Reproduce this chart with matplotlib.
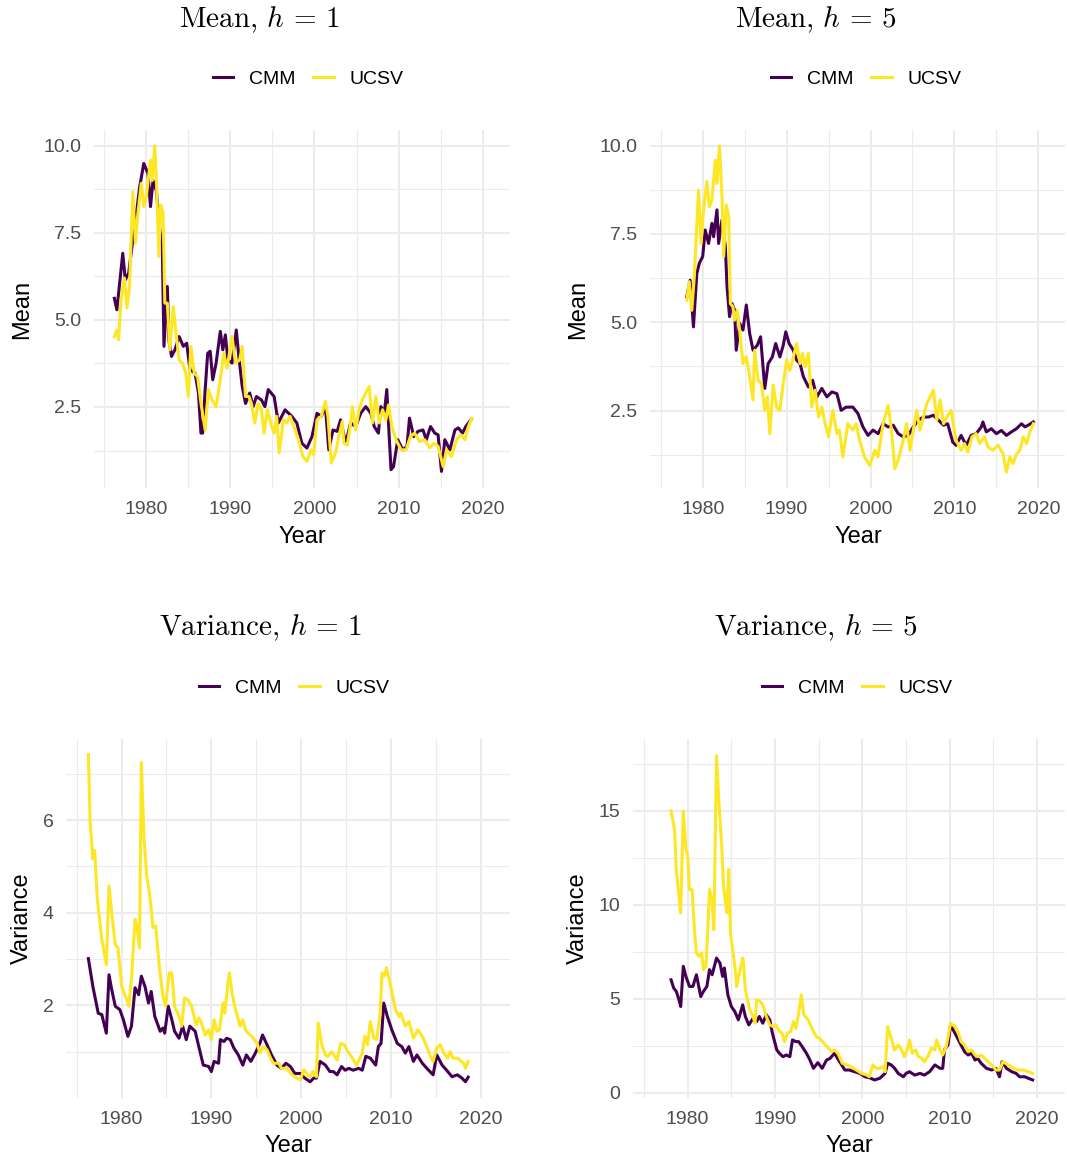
import matplotlib
matplotlib.use("Agg")
import matplotlib.pyplot as plt
from matplotlib.lines import Line2D

plt.rcParams['font.family'] = ['Liberation Sans', 'DejaVu Sans']
plt.rcParams['mathtext.fontset'] = 'cm'

# ---------------- data ----------------
series_names = ["CMM", "UCSV"]
colors = {"CMM": "#440154", "UCSV": "#FDE725"}

mean_h1_cmm_year = [1976.2, 1976.5, 1977.2, 1977.5, 1977.9, 1978.4, 1978.8, 1979.2, 1979.7, 1980.2,
                    1980.5, 1980.8, 1981.2, 1981.6, 1981.9, 1982.1, 1982.5, 1982.7, 1983.0, 1983.4,
                    1983.9, 1984.4, 1984.8, 1985.2, 1985.8, 1986.2, 1986.5, 1986.7, 1987.0, 1987.3,
                    1987.6, 1987.9, 1988.3, 1988.8, 1989.1, 1989.4, 1989.7, 1990.2, 1990.7, 1991.0,
                    1991.4, 1991.8, 1992.3, 1992.7, 1993.1, 1993.7, 1994.1, 1994.5, 1995.2, 1995.7,
                    1996.5, 1997.3, 1997.9, 1998.5, 1999.1, 1999.7, 2000.3, 2000.8, 2001.3, 2001.7,
                    2002.2, 2002.7, 2003.1, 2003.7, 2004.3, 2004.9, 2005.5, 2006.1, 2006.7, 2007.1,
                    2007.6, 2007.9, 2008.3, 2008.6, 2008.8, 2009.1, 2009.4, 2009.9, 2010.5, 2011.0,
                    2011.3, 2011.8, 2012.3, 2012.9, 2013.3, 2013.8, 2014.3, 2014.7, 2015.1, 2015.5,
                    2016.1, 2016.7, 2017.1, 2017.6, 2018.0, 2018.6]
mean_h1_cmm = [5.62, 5.29, 6.91, 6.15, 6.34, 7.3, 8.0, 8.8, 9.49, 9.2,
               8.25, 9.0, 8.7, 7.6, 7.1, 4.24, 5.96, 4.4, 3.95, 4.14,
               4.52, 4.24, 4.33, 3.57, 3.47, 2.9, 1.75, 1.75, 3.0, 4.04,
               4.1, 3.28, 3.76, 4.67, 4.14, 4.57, 3.85, 3.76, 4.71, 3.95,
               3.1, 2.6, 2.9, 2.51, 2.8, 2.7, 2.51, 3.0, 2.8, 2.04,
               2.42, 2.23, 2.04, 1.46, 1.32, 1.65, 2.32, 2.23, 2.5, 1.27,
               1.84, 1.8, 2.13, 1.46, 2.04, 1.94, 2.32, 2.51, 2.32, 1.94,
               1.75, 2.51, 2.32, 3.0, 2.04, 0.7, 0.79, 1.56, 1.27, 1.37,
               2.18, 1.65, 1.8, 1.84, 1.56, 1.94, 1.75, 1.7, 0.65, 1.56,
               1.27, 1.84, 1.9, 1.75, 1.94, 2.13]

mean_h1_ucsv_year = [1976.2, 1976.5, 1976.7, 1977.0, 1977.4, 1977.7, 1978.0, 1978.4, 1978.7, 1979.0,
                     1979.4, 1979.7, 1980.0, 1980.5, 1980.7, 1981.0, 1981.2, 1981.5, 1981.7, 1982.0,
                     1982.2, 1982.5, 1982.8, 1983.2, 1983.5, 1983.9, 1984.3, 1984.7, 1985.0, 1985.3,
                     1985.7, 1986.1, 1986.5, 1987.0, 1987.4, 1987.8, 1988.3, 1988.8, 1989.2, 1989.6,
                     1990.2, 1990.6, 1991.1, 1991.4, 1991.8, 1992.2, 1992.5, 1992.9, 1993.3, 1993.7,
                     1994.0, 1994.4, 1994.8, 1995.2, 1995.5, 1995.8, 1996.3, 1996.7, 1997.1, 1997.6,
                     1998.1, 1998.6, 1999.1, 1999.6, 1999.9, 2000.3, 2000.8, 2001.3, 2001.6, 2002.0,
                     2002.5, 2002.9, 2003.3, 2003.5, 2003.9, 2004.3, 2004.5, 2004.9, 2005.3, 2005.7,
                     2006.1, 2006.5, 2006.9, 2007.3, 2007.7, 2008.1, 2008.5, 2008.8, 2009.2, 2009.7,
                     2010.3, 2010.9, 2011.4, 2011.9, 2012.5, 2013.1, 2013.7, 2014.2, 2014.7, 2015.3,
                     2015.7, 2016.3, 2016.9, 2017.4, 2017.9, 2018.3, 2018.7]
mean_h1_ucsv = [4.52, 4.71, 4.43, 5.57, 6.2, 5.34, 5.96, 8.68, 7.2, 8.06,
                8.92, 8.25, 8.54, 9.59, 9.0, 10.0, 9.0, 6.82, 8.3, 8.06,
                5.48, 5.48, 4.14, 5.38, 4.71, 3.85, 3.76, 3.47, 2.8, 4.24,
                3.47, 3.37, 2.61, 1.84, 3.0, 2.71, 2.51, 3.28, 4.04, 3.61,
                4.52, 3.76, 3.85, 4.24, 2.8, 2.8, 2.6, 2.04, 2.6, 2.42,
                1.75, 2.42, 2.04, 1.75, 2.23, 1.18, 2.13, 2.04, 2.23, 1.9,
                1.56, 1.08, 0.94, 1.27, 1.13, 2.13, 2.23, 2.66, 2.23, 0.89,
                1.18, 1.65, 2.08, 1.46, 1.41, 2.04, 2.51, 1.84, 2.42, 2.71,
                2.9, 3.09, 2.04, 2.8, 2.04, 2.42, 2.13, 2.56, 1.94, 1.56,
                1.27, 1.27, 1.65, 1.75, 1.51, 1.56, 1.32, 1.46, 1.37, 0.79,
                1.27, 1.08, 1.56, 1.7, 1.56, 1.94, 2.18]

mean_h5_cmm_year = [1978.1, 1978.5, 1978.9, 1979.3, 1979.6, 1980.0, 1980.3, 1980.7, 1981.1, 1981.3,
                    1981.7, 1981.9, 1982.3, 1982.7, 1982.9, 1983.2, 1983.5, 1983.8, 1984.0, 1984.4,
                    1984.8, 1985.2, 1985.6, 1986.0, 1986.5, 1986.9, 1987.4, 1987.8, 1988.3, 1988.7,
                    1989.2, 1989.6, 1989.9, 1990.3, 1990.8, 1991.2, 1991.6, 1992.0, 1992.6, 1993.1,
                    1993.6, 1994.2, 1994.8, 1995.4, 1996.0, 1996.5, 1997.1, 1997.9, 1998.5, 1999.1,
                    1999.7, 2000.3, 2000.9, 2001.5, 2002.1, 2002.7, 2003.3, 2003.9, 2004.5, 2005.1,
                    2005.7, 2006.3, 2006.9, 2007.5, 2008.1, 2008.7, 2009.2, 2009.8, 2010.2, 2010.8,
                    2011.4, 2012.0, 2012.6, 2013.2, 2013.4, 2013.8, 2014.4, 2015.0, 2015.6, 2016.2,
                    2016.8, 2017.4, 2018.0, 2018.4, 2018.8, 2019.4]
mean_h5_cmm = [5.72, 6.19, 4.87, 6.38, 6.67, 6.86, 7.61, 7.23, 7.8, 7.42,
               8.18, 7.23, 7.9, 7.14, 6.0, 5.16, 5.53, 5.34, 4.21, 4.97,
               4.78, 5.49, 4.68, 4.21, 4.35, 4.59, 3.13, 3.83, 4.02, 4.4,
               4.02, 4.35, 4.73, 4.4, 4.21, 3.93, 3.83, 3.46, 3.17, 3.36,
               2.89, 3.13, 2.89, 3.03, 2.98, 2.51, 2.6, 2.6, 2.42, 2.04,
               1.8, 1.95, 1.85, 2.13, 2.04, 2.09, 1.85, 1.76, 1.8, 2.04,
               2.23, 2.32, 2.32, 2.37, 2.23, 2.09, 2.13, 1.61, 1.52, 1.8,
               1.52, 1.8, 1.85, 2.04, 2.18, 1.9, 1.99, 1.85, 1.94, 1.8,
               1.9, 1.99, 2.13, 2.04, 2.09, 2.18]

mean_h5_ucsv_year = [1978.1, 1978.4, 1978.7, 1979.0, 1979.5, 1979.8, 1980.1, 1980.5, 1980.8, 1981.1,
                     1981.5, 1981.7, 1982.0, 1982.3, 1982.5, 1982.8, 1983.1, 1983.3, 1983.6, 1983.8,
                     1984.1, 1984.4, 1984.8, 1985.2, 1985.6, 1986.0, 1986.2, 1986.6, 1987.0, 1987.4,
                     1987.7, 1988.0, 1988.4, 1988.8, 1989.2, 1989.6, 1990.0, 1990.4, 1990.8, 1991.2,
                     1991.6, 1991.9, 1992.2, 1992.6, 1993.0, 1993.4, 1993.8, 1994.2, 1994.6, 1995.0,
                     1995.5, 1996.0, 1996.3, 1996.7, 1997.3, 1997.9, 1998.3, 1998.7, 1999.3, 1999.9,
                     2000.5, 2000.9, 2001.5, 2002.1, 2002.5, 2002.9, 2003.3, 2003.9, 2004.3, 2004.7,
                     2005.1, 2005.5, 2005.9, 2006.3, 2006.7, 2007.1, 2007.5, 2007.9, 2008.3, 2008.7,
                     2009.1, 2009.6, 2010.2, 2010.8, 2011.2, 2011.6, 2012.1, 2012.6, 2013.0, 2013.6,
                     2014.0, 2014.6, 2015.2, 2015.8, 2016.2, 2016.6, 2017.0, 2017.4, 2017.8, 2018.2,
                     2018.6, 2019.0, 2019.4]
mean_h5_ucsv = [5.63, 6.15, 5.34, 6.29, 8.74, 7.23, 8.18, 8.98, 8.27, 8.46,
                9.59, 8.93, 9.99, 8.56, 6.86, 8.32, 7.99, 5.53, 5.44, 5.06,
                5.34, 4.78, 3.83, 4.02, 3.46, 2.8, 4.21, 3.36, 3.27, 2.51,
                2.89, 1.85, 3.22, 2.6, 2.51, 3.27, 3.93, 3.64, 4.02, 4.4,
                3.83, 4.12, 3.74, 4.12, 2.6, 3.08, 2.32, 2.6, 2.13, 1.76,
                2.51, 1.85, 1.95, 1.19, 2.13, 1.95, 2.13, 1.66, 1.19, 0.95,
                1.38, 1.19, 2.13, 2.65, 1.95, 0.86, 1.1, 1.66, 2.13, 1.38,
                1.95, 2.51, 1.95, 2.32, 2.7, 2.89, 3.08, 2.23, 2.8, 2.13,
                2.32, 2.51, 1.66, 1.38, 1.57, 1.33, 1.76, 1.85, 1.57, 1.76,
                1.47, 1.38, 1.52, 1.28, 0.76, 1.19, 1.0, 1.28, 1.38, 1.76,
                1.57, 1.9, 2.13]

var_h1_cmm_year = [1976.3, 1976.8, 1977.4, 1977.8, 1978.3, 1978.6, 1978.9, 1979.3, 1979.8, 1980.2,
                   1980.7, 1981.1, 1981.5, 1981.9, 1982.2, 1982.6, 1983.0, 1983.3, 1983.7, 1984.3,
                   1984.6, 1984.8, 1985.2, 1985.6, 1985.9, 1986.4, 1986.8, 1987.2, 1987.6, 1988.2,
                   1988.6, 1989.1, 1989.7, 1990.0, 1990.3, 1990.8, 1991.0, 1991.4, 1991.7, 1992.1,
                   1992.5, 1993.0, 1993.5, 1993.9, 1994.4, 1994.9, 1995.4, 1995.7, 1996.2, 1996.7,
                   1997.3, 1997.8, 1998.3, 1998.8, 1999.3, 1999.9, 2000.4, 2001.0, 2001.4, 2001.7,
                   2002.1, 2002.7, 2003.2, 2003.6, 2004.0, 2004.5, 2004.9, 2005.3, 2005.8, 2006.4,
                   2006.8, 2007.2, 2007.7, 2008.3, 2008.6, 2008.9, 2009.2, 2009.6, 2010.1, 2010.7,
                   2011.2, 2011.6, 2012.0, 2012.5, 2012.9, 2013.5, 2014.0, 2014.7, 2015.1, 2015.7,
                   2016.2, 2016.8, 2017.4, 2017.9, 2018.3, 2018.6]
var_h1_cmm = [3.01, 2.41, 1.83, 1.8, 1.4, 2.66, 2.34, 1.98, 1.91, 1.69,
              1.33, 1.55, 2.38, 2.23, 2.63, 2.41, 2.05, 2.3, 1.76, 1.44,
              1.51, 1.4, 1.98, 1.69, 1.44, 1.29, 1.55, 1.26, 1.55, 1.44,
              1.11, 0.71, 0.68, 0.57, 0.79, 0.75, 1.26, 1.22, 1.29, 1.26,
              1.08, 0.93, 0.71, 0.93, 0.79, 0.97, 1.18, 1.36, 1.15, 0.93,
              0.71, 0.64, 0.75, 0.68, 0.53, 0.53, 0.43, 0.35, 0.43, 0.43,
              0.79, 0.71, 0.57, 0.57, 0.5, 0.68, 0.6, 0.64, 0.6, 0.64,
              0.6, 0.9, 0.86, 0.71, 1.11, 1.18, 2.05, 1.76, 1.47, 1.18,
              1.11, 0.97, 1.11, 0.79, 0.93, 0.75, 0.64, 0.5, 0.93, 0.71,
              0.6, 0.46, 0.5, 0.43, 0.35, 0.45]

var_h1_ucsv_year = [1976.3, 1976.5, 1976.8, 1977.0, 1977.3, 1977.8, 1978.3, 1978.6, 1978.9, 1979.3,
                    1979.6, 1980.0, 1980.6, 1980.8, 1981.1, 1981.5, 1981.7, 1982.0, 1982.2, 1982.5,
                    1982.8, 1983.1, 1983.3, 1983.5, 1983.8, 1984.2, 1984.6, 1984.9, 1985.3, 1985.6,
                    1985.9, 1986.4, 1986.7, 1987.0, 1987.4, 1987.8, 1988.3, 1988.6, 1988.9, 1989.3,
                    1989.7, 1990.0, 1990.3, 1990.6, 1990.9, 1991.3, 1991.5, 1991.8, 1992.0, 1992.3,
                    1992.6, 1993.0, 1993.2, 1993.5, 1993.8, 1994.1, 1994.5, 1995.1, 1995.4, 1995.8,
                    1996.2, 1996.5, 1996.9, 1997.5, 1997.8, 1998.4, 1999.0, 1999.5, 1999.9, 2000.3,
                    2000.7, 2001.0, 2001.3, 2001.7, 2001.9, 2002.3, 2002.7, 2003.0, 2003.4, 2004.0,
                    2004.4, 2004.8, 2005.2, 2005.7, 2006.2, 2006.8, 2007.1, 2007.4, 2007.7, 2008.1,
                    2008.4, 2008.8, 2009.0, 2009.3, 2009.5, 2009.9, 2010.5, 2010.9, 2011.1, 2011.6,
                    2012.0, 2012.5, 2013.0, 2013.5, 2013.9, 2014.4, 2014.7, 2015.1, 2015.5, 2015.9,
                    2016.3, 2016.6, 2016.9, 2017.4, 2017.7, 2018.1, 2018.3, 2018.6]
var_h1_ucsv = [7.41, 5.95, 5.16, 5.34, 4.29, 3.42, 2.88, 4.58, 4.0, 3.31,
               3.24, 2.41, 2.12, 1.98, 2.56, 3.86, 3.71, 3.24, 7.25, 5.59,
               4.79, 4.43, 4.07, 3.68, 3.71, 2.84, 2.19, 1.98, 2.7, 2.7,
               1.98, 1.76, 1.55, 2.16, 2.12, 1.98, 1.58, 1.73, 1.62, 1.36,
               1.47, 1.26, 1.69, 1.44, 1.47, 2.05, 1.83, 2.41, 2.7, 2.27,
               1.98, 1.69, 1.55, 1.69, 1.47, 1.4, 1.33, 1.18, 0.97, 1.11,
               1.04, 0.9, 0.75, 0.75, 0.64, 0.64, 0.5, 0.43, 0.39, 0.61,
               0.5, 0.46, 0.57, 0.46, 1.62, 1.15, 0.93, 0.9, 1.0, 0.82,
               1.18, 1.15, 1.0, 0.86, 0.71, 0.97, 1.33, 1.15, 1.65, 1.29,
               1.26, 1.83, 2.7, 2.63, 2.81, 2.48, 1.91, 1.76, 1.83, 1.55,
               1.65, 1.29, 1.47, 1.33, 1.15, 0.9, 0.79, 1.08, 1.15, 0.97,
               0.86, 1.0, 0.86, 0.86, 0.82, 0.75, 0.64, 0.79]

var_h5_cmm_year = [1978.1, 1978.4, 1978.7, 1979.0, 1979.2, 1979.5, 1979.8, 1980.2, 1980.6, 1981.0,
                   1981.5, 1981.8, 1982.2, 1982.5, 1982.8, 1983.3, 1983.7, 1984.0, 1984.2, 1984.6,
                   1985.0, 1985.4, 1985.8, 1986.3, 1986.6, 1987.0, 1987.5, 1987.9, 1988.2, 1988.6,
                   1989.0, 1989.4, 1989.7, 1990.2, 1990.5, 1990.9, 1991.3, 1991.7, 1992.0, 1992.4,
                   1992.7, 1993.1, 1993.6, 1994.0, 1994.4, 1994.9, 1995.4, 1995.9, 1996.3, 1996.8,
                   1997.4, 1998.0, 1998.5, 1999.1, 1999.7, 2000.3, 2000.8, 2001.4, 2002.0, 2002.6,
                   2002.9, 2003.3, 2003.7, 2004.1, 2004.7, 2005.0, 2005.4, 2006.0, 2006.6, 2007.1,
                   2007.7, 2008.3, 2008.9, 2009.2, 2009.4, 2009.8, 2010.1, 2010.6, 2011.0, 2011.3,
                   2011.7, 2012.1, 2012.5, 2012.9, 2013.2, 2013.6, 2014.2, 2014.8, 2015.3, 2015.7,
                   2016.0, 2016.5, 2017.1, 2017.6, 2018.0, 2018.6, 2019.0, 2019.5]
var_h5_cmm = [6.01, 5.57, 5.39, 4.95, 4.59, 6.73, 6.19, 5.66, 5.66, 6.28,
              5.12, 5.39, 5.66, 6.55, 6.28, 7.17, 6.9, 6.19, 6.64, 5.21,
              4.59, 4.32, 3.88, 4.68, 4.06, 3.61, 3.97, 3.79, 4.06, 3.7,
              4.15, 3.88, 3.17, 2.28, 2.1, 1.92, 2.01, 1.92, 2.81, 2.72,
              2.72, 2.46, 2.1, 1.74, 1.3, 1.6, 1.3, 1.74, 1.83, 2.1,
              1.65, 1.21, 1.21, 1.12, 1.03, 0.85, 0.8, 0.68, 0.77, 1.03,
              1.57, 1.48, 1.3, 1.03, 0.85, 1.03, 1.12, 0.94, 1.03, 0.94,
              1.12, 1.48, 1.3, 1.3, 2.28, 2.54, 3.61, 3.17, 2.81, 2.54,
              2.19, 2.01, 2.1, 1.74, 1.83, 1.57, 1.3, 1.21, 1.3, 0.85,
              1.65, 1.3, 1.12, 1.03, 0.85, 0.85, 0.77, 0.68]

var_h5_ucsv_year = [1978.1, 1978.5, 1978.7, 1979.0, 1979.2, 1979.5, 1979.8, 1980.0, 1980.2, 1980.5,
                    1980.8, 1981.0, 1981.3, 1981.6, 1981.8, 1982.1, 1982.3, 1982.5, 1982.8, 1983.0,
                    1983.3, 1983.6, 1983.9, 1984.1, 1984.4, 1984.5, 1984.7, 1984.9, 1985.2, 1985.5,
                    1985.6, 1986.0, 1986.3, 1986.4, 1986.6, 1987.1, 1987.5, 1987.7, 1987.9, 1988.3,
                    1988.6, 1989.0, 1989.4, 1989.8, 1990.1, 1990.5, 1990.8, 1991.1, 1991.4, 1991.8,
                    1992.1, 1992.4, 1992.7, 1993.0, 1993.3, 1993.8, 1994.3, 1994.7, 1995.1, 1995.6,
                    1996.1, 1996.5, 1996.8, 1997.2, 1997.7, 1998.2, 1998.7, 1999.3, 1999.9, 2000.5,
                    2000.8, 2001.2, 2001.6, 2002.0, 2002.4, 2002.6, 2002.9, 2003.3, 2003.7, 2004.1,
                    2004.5, 2004.8, 2005.2, 2005.4, 2005.7, 2006.1, 2006.4, 2006.8, 2007.1, 2007.5,
                    2007.9, 2008.3, 2008.5, 2008.9, 2009.2, 2009.6, 2010.1, 2010.6, 2011.0, 2011.3,
                    2011.7, 2012.1, 2012.5, 2012.9, 2013.2, 2013.6, 2014.2, 2014.8, 2015.3, 2015.7,
                    2016.1, 2016.7, 2017.3, 2017.8, 2018.4, 2019.0, 2019.5]
var_h5_ucsv = [15.0, 14.0, 11.86, 10.46, 9.57, 15.0, 12.95, 12.6, 10.82, 10.82,
               8.5, 7.44, 7.26, 7.44, 6.55, 6.73, 8.68, 10.82, 10.2, 8.68,
               17.94, 15.27, 13.13, 11.0, 9.93, 9.57, 11.89, 8.5, 7.44, 6.37,
               5.66, 6.55, 7.17, 6.9, 5.48, 4.41, 4.06, 3.7, 4.95, 4.86,
               4.68, 4.06, 3.61, 3.52, 3.61, 3.26, 3.17, 2.72, 3.17, 3.26,
               3.79, 3.43, 4.23, 5.21, 4.15, 3.88, 3.35, 2.99, 2.9, 2.63,
               2.37, 2.19, 2.28, 2.1, 1.57, 1.48, 1.39, 1.21, 1.03, 0.94,
               0.85, 1.48, 1.3, 1.3, 1.39, 1.12, 3.52, 2.9, 2.28, 2.54,
               2.28, 1.92, 2.37, 2.81, 2.1, 2.28, 1.92, 1.83, 1.65, 1.92,
               2.37, 2.28, 2.81, 2.28, 2.01, 2.46, 3.7, 3.52, 3.17, 2.72,
               2.54, 2.19, 2.28, 2.01, 1.92, 2.01, 1.74, 1.48, 1.21, 1.21,
               1.65, 1.48, 1.3, 1.21, 1.21, 1.12, 1.03]

x_ticks = [1980, 1990, 2000, 2010, 2020]
x_minor = [1975, 1985, 1995, 2005, 2015]

# ---------------- layout ----------------
W, H = 1067, 1162
fig = plt.figure(figsize=(W / 100, H / 100), dpi=100)
fig.patch.set_facecolor("white")


def rect(l, t, r, b):
    return [l / W, 1 - b / H, (r - l) / W, (b - t) / H]


panels = [
    dict(rect=rect(94, 130, 510, 488), xlim=(1973.78, 2023.25), ylim=(0.174, 10.45),
         yt=[2.5, 5.0, 7.5, 10.0], ylab=["2.5", "5.0", "7.5", "10.0"], ym=[1.25, 3.75, 6.25, 8.75],
         data=[(mean_h1_cmm_year, mean_h1_cmm), (mean_h1_ucsv_year, mean_h1_ucsv)],
         title=r"$\mathrm{Mean,}\,h\,=\,1$", tpos=(259, 20), lpos=(308, 79),
         ylabel="Mean", ylpos=(22, 309), xlpos=(302, 537)),
    dict(rect=rect(650, 130, 1065, 488), xlim=(1973.72, 2023.18), ylim=(0.312, 10.44),
         yt=[2.5, 5.0, 7.5, 10.0], ylab=["2.5", "5.0", "7.5", "10.0"], ym=[1.25, 3.75, 6.25, 8.75],
         data=[(mean_h5_cmm_year, mean_h5_cmm), (mean_h5_ucsv_year, mean_h5_ucsv)],
         title=r"$\mathrm{Mean,}\,h\,=\,5$", tpos=(816, 20), lpos=(866, 79),
         ylabel="Mean", ylpos=(578, 309), xlpos=(858, 537)),
    dict(rect=rect(66, 739, 510, 1098), xlim=(1973.81, 2023.26), ylim=(0.0, 7.75),
         yt=[2, 4, 6], ylab=["2", "4", "6"], ym=[1, 3, 5, 7],
         data=[(var_h1_cmm_year, var_h1_cmm), (var_h1_ucsv_year, var_h1_ucsv)],
         title=r"$\mathrm{Variance,}\,h\,=\,1$", tpos=(260, 628), lpos=(294, 688),
         ylabel="Variance", ylpos=(22, 918), xlpos=(288, 1146)),
    dict(rect=rect(633, 739, 1065, 1098), xlim=(1973.74, 2023.2), ylim=(-0.28, 18.83),
         yt=[0, 5, 10, 15], ylab=["0", "5", "10", "15"], ym=[2.5, 7.5, 12.5, 17.5],
         data=[(var_h5_cmm_year, var_h5_cmm), (var_h5_ucsv_year, var_h5_ucsv)],
         title=r"$\mathrm{Variance,}\,h\,=\,5$", tpos=(816, 628), lpos=(857, 688),
         ylabel="Variance", ylpos=(578, 918), xlpos=(849, 1146)),
]

grid_col = "#EBEBEB"
for p in panels:
    ax = fig.add_axes(p["rect"])
    ax.set_facecolor("white")
    for s in ax.spines.values():
        s.set_visible(False)
    ax.set_xlim(*p["xlim"])
    ax.set_ylim(*p["ylim"])
    ax.set_xticks(x_ticks)
    ax.set_xticklabels([str(v) for v in x_ticks])
    ax.set_xticks(x_minor, minor=True)
    ax.set_yticks(p["yt"])
    ax.set_yticklabels(p["ylab"])
    ax.set_yticks(p["ym"], minor=True)
    ax.tick_params(which="both", length=0)
    ax.tick_params(axis="x", which="major", labelsize=14, labelcolor="#4D4D4D", pad=9.5)
    ax.tick_params(axis="y", which="major", labelsize=14, labelcolor="#4D4D4D", pad=9)
    ax.grid(which="major", color=grid_col, linewidth=1.5)
    ax.grid(which="minor", color=grid_col, linewidth=0.8)
    ax.set_axisbelow(True)
    handles = []
    for name, (xs, ys) in zip(series_names, p["data"]):
        ax.plot(xs, ys, color=colors[name], linewidth=2.2, solid_joinstyle="round", zorder=3)
        handles.append(Line2D([], [], color=colors[name], linewidth=2.2, label=name))
    fig.text(p["tpos"][0] / W, 1 - p["tpos"][1] / H, p["title"], fontsize=21,
             ha="center", va="center", color="black")
    fig.legend(handles=handles, loc="center", ncol=2, frameon=False,
               bbox_to_anchor=(p["lpos"][0] / W, 1 - p["lpos"][1] / H),
               fontsize=14, handlelength=1.05, handletextpad=0.8, columnspacing=0.95)
    fig.text(p["ylpos"][0] / W, 1 - p["ylpos"][1] / H, p["ylabel"], rotation=90,
             fontsize=17, ha="center", va="center", color="black")
    fig.text(p["xlpos"][0] / W, 1 - p["xlpos"][1] / H, "Year",
             fontsize=17, ha="center", va="center", color="black")

fig.savefig("out.png", dpi=100, facecolor="white")
